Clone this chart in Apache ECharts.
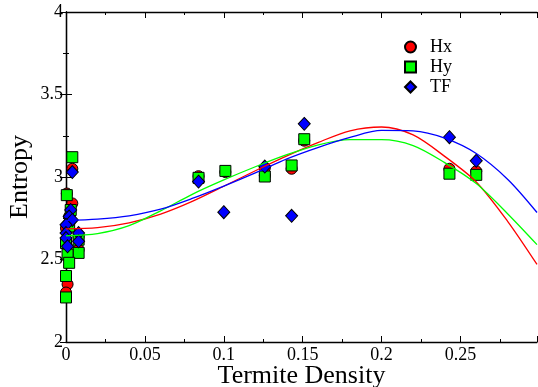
<!DOCTYPE html>
<html>
<head>
<meta charset="UTF-8">
<title>Entropy vs Termite Density</title>
<script src="https://cdn.jsdelivr.net/npm/echarts@6/dist/echarts.min.js"></script>
<style>
 html,body{margin:0;padding:0;background:#fff;}
</style>
</head>
<body>
<div id="mainChart" style="width:538px;height:387px;"></div>
<script type="text/javascript">
// points: [density, entropy]
var hxPoints = [
    [0.004, 3.05], [0.0005, 2.90], [0.004, 2.84], [0.002, 2.76], [0.0, 2.69],
    [0.008, 2.64], [0.0, 2.60], [0.008, 2.56], [0.002, 2.52], [0.001, 2.35], [0.0, 2.30],
    [0.084, 3.005], [0.101, 3.03], [0.126, 3.01], [0.126, 3.055], [0.143, 3.05],
    [0.151, 3.22], [0.243, 3.05], [0.260, 3.035]
];
var hyPoints = [
    [0.004, 3.12], [0.0005, 2.89], [0.003, 2.80], [0.002, 2.70], [0.008, 2.62],
    [0.0, 2.60], [0.008, 2.54], [0.001, 2.53], [0.002, 2.48], [0.0, 2.40], [0.0, 2.27],
    [0.084, 2.995], [0.101, 3.037], [0.126, 3.003], [0.143, 3.07],
    [0.151, 3.229], [0.243, 3.02], [0.260, 3.013]
];
var tfPoints = [
    [0.004, 3.03], [0.003, 2.80], [0.002, 2.76], [0.004, 2.74], [0.0, 2.71],
    [0.0, 2.66], [0.008, 2.66], [0.008, 2.61], [0.0, 2.63], [0.001, 2.58],
    [0.084, 2.972], [0.1, 2.787], [0.126, 3.063], [0.143, 2.765],
    [0.151, 3.322], [0.243, 3.241], [0.260, 3.098]
];

// fitted curves at these densities
var fitX = [0, 0.02, 0.04, 0.06, 0.08, 0.10, 0.12, 0.14, 0.16, 0.18, 0.20, 0.22, 0.24, 0.26, 0.28, 0.2985];
var hxFit = [2.686, 2.693, 2.722, 2.775, 2.852, 2.944, 3.038, 3.128, 3.210, 3.280, 3.303, 3.255, 3.125, 2.970, 2.73, 2.47];
var hyFit = [2.644, 2.657, 2.705, 2.795, 2.895, 2.982, 3.062, 3.135, 3.195, 3.226, 3.226, 3.190, 3.087, 2.960, 2.776, 2.59];
var tfFit = [2.736, 2.745, 2.765, 2.805, 2.870, 2.945, 3.025, 3.110, 3.180, 3.240, 3.282, 3.279, 3.235, 3.142, 2.985, 2.785];

var legendNames = ['Hx', 'Hy', 'TF'];
var xTicks = [0, 0.05, 0.1, 0.15, 0.2, 0.25];
var yTicks = [2, 2.5, 3, 3.5, 4];

function pairs(xs, ys) {
    var out = [];
    for (var i = 0; i < xs.length; i++) out.push([xs[i], ys[i]]);
    return out;
}

var serif = 'Liberation Serif';
var myChart = echarts.init(document.getElementById('mainChart'));

var xBase = {
    type: 'value',
    min: xTicks[0],
    max: 0.2985,
    interval: 0.05,
    axisLine: {lineStyle: {color: '#000', width: 1.3}},
    axisTick: {inside: true, length: 6, lineStyle: {color: '#000'}},
    minorTick: {show: true, splitNumber: 2, length: 3, lineStyle: {color: '#000'}},
    splitLine: {show: false}
};
var yBase = {
    type: 'value',
    min: yTicks[0],
    max: yTicks[yTicks.length - 1],
    interval: 0.5,
    axisLine: {lineStyle: {color: '#000', width: 1.3}},
    axisTick: {inside: true, length: 6, lineStyle: {color: '#000'}},
    minorTick: {show: true, splitNumber: 2, length: 3, lineStyle: {color: '#000'}},
    splitLine: {show: false}
};

var option = {
    animation: false,
    backgroundColor: '#fff',
    grid: {left: 66, right: 1, top: 12, bottom: 45, containLabel: false, outerBoundsMode: 'none'},
    legend: {
        orient: 'vertical',
        left: 404,
        top: 38,
        padding: 0,
        itemWidth: 11,
        itemHeight: 11,
        itemGap: 2,
        textStyle: {fontFamily: serif, fontSize: 18, color: '#000', padding: [0, 0, 0, 9]},
        data: [
            {name: legendNames[0], icon: 'circle'},
            {name: legendNames[1], icon: 'rect'},
            {name: legendNames[2], icon: 'diamond'}
        ]
    },
    xAxis: [
        Object.assign({}, xBase, {
            position: 'bottom',
            name: 'Termite Density',
            nameLocation: 'middle',
            nameMoveOverlap: false,
            nameGap: 21,
            nameTextStyle: {fontFamily: serif, fontSize: 26, color: '#000'},
            axisLabel: {
                fontFamily: serif, fontSize: 18, color: '#000', margin: 4,
                showMaxLabel: false,
                formatter: function (v) { return String(Math.round(v * 1000) / 1000); }
            }
        }),
        Object.assign({}, xBase, {position: 'top', axisLabel: {show: false}})
    ],
    yAxis: [
        Object.assign({}, yBase, {
            position: 'left',
            name: 'Entropy',
            nameLocation: 'middle',
            nameMoveOverlap: false,
            nameGap: 33,
            nameTextStyle: {fontFamily: serif, fontSize: 26, color: '#000'},
            axisLabel: {fontFamily: serif, fontSize: 18, color: '#000', margin: 3}
        }),
        Object.assign({}, yBase, {position: 'right', axisLabel: {show: false}})
    ],
    series: [
        {
            name: legendNames[0], type: 'scatter', z: 2,
            symbol: 'circle', symbolSize: 11,
            itemStyle: {color: '#ff0000', borderColor: '#000', borderWidth: 1, opacity: 1},
            data: hxPoints
        },
        {
            name: legendNames[1], type: 'scatter', z: 3,
            symbol: 'rect', symbolSize: 11,
            itemStyle: {color: '#00ff00', borderColor: '#000', borderWidth: 1, opacity: 1},
            data: hyPoints
        },
        {
            name: legendNames[2], type: 'scatter', z: 4,
            symbol: 'diamond', symbolSize: [12, 13],
            itemStyle: {color: '#0000ff', borderColor: '#000', borderWidth: 1, opacity: 1},
            data: tfPoints
        },
        {
            type: 'line', z: 5, showSymbol: false, smooth: 0.3,
            lineStyle: {color: '#ff0000', width: 1.3},
            data: pairs(fitX, hxFit)
        },
        {
            type: 'line', z: 5, showSymbol: false, smooth: 0.3,
            lineStyle: {color: '#00ff00', width: 1.3},
            data: pairs(fitX, hyFit)
        },
        {
            type: 'line', z: 5, showSymbol: false, smooth: 0.3,
            lineStyle: {color: '#0000ff', width: 1.3},
            data: pairs(fitX, tfFit)
        }
    ]
};

myChart.setOption(option);
</script>
</body>
</html>
